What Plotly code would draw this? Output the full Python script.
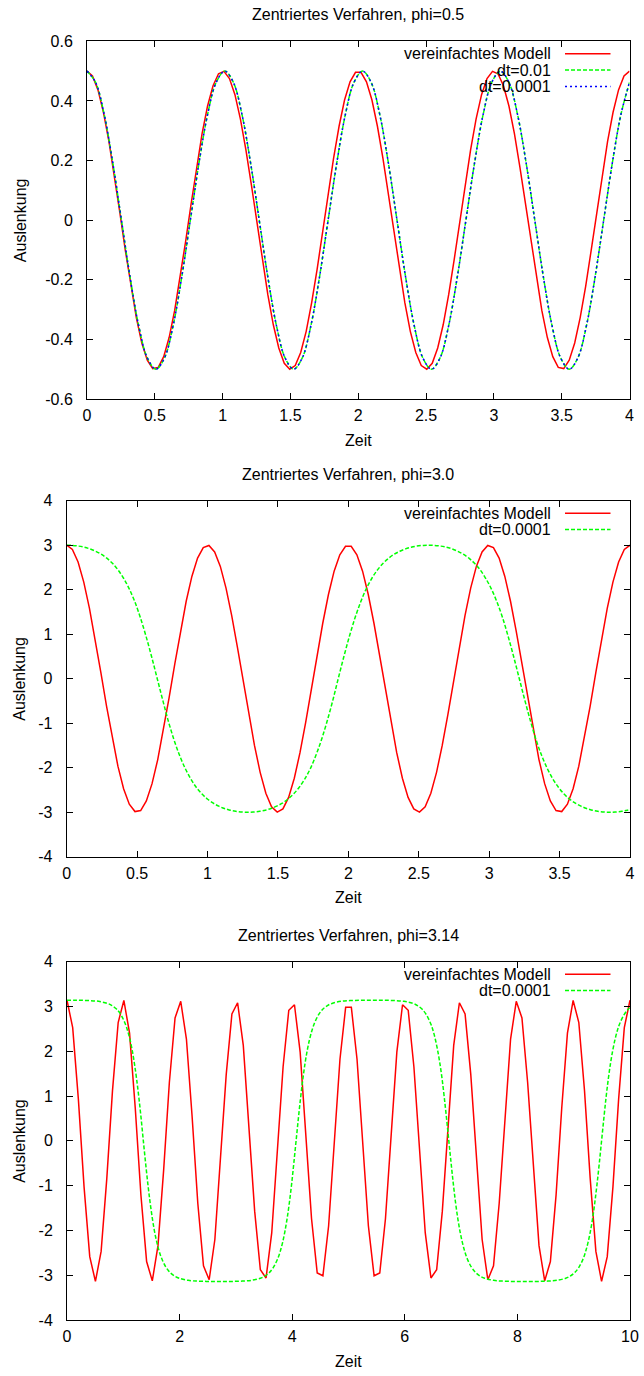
import numpy as np
import plotly.graph_objects as go

W, H = 644, 1376

# ---------------- Plot 1: phi = 0.5 ----------------
t1_model = np.linspace(0, 4, 100)
y1_model = [0.5, 0.484, 0.437, 0.362, 0.264, 0.148, 0.024, -0.102, -0.222, -0.327,
            -0.412, -0.470, -0.498, -0.494, -0.458, -0.393, -0.303, -0.193, -0.071, 0.055,
            0.178, 0.290, 0.383, 0.451, 0.491, 0.499, 0.475, 0.421, 0.339, 0.236,
            0.118, -0.008, -0.133, -0.250, -0.351, -0.429, -0.480, -0.500, -0.488, -0.444,
            -0.373, -0.277, -0.164, -0.040, 0.087, 0.208, 0.315, 0.403, 0.464, 0.496,
            0.496, 0.464, 0.403, 0.315, 0.208, 0.087, -0.040, -0.164, -0.277, -0.373,
            -0.444, -0.488, -0.500, -0.480, -0.429, -0.351, -0.250, -0.133, -0.008, 0.118,
            0.236, 0.339, 0.421, 0.475, 0.499, 0.491, 0.451, 0.383, 0.290, 0.178,
            0.055, -0.071, -0.193, -0.303, -0.393, -0.458, -0.494, -0.498, -0.470, -0.412,
            -0.327, -0.222, -0.102, 0.024, 0.148, 0.264, 0.362, 0.437, 0.484, 0.5]

t1_num = [0.0000, 0.0635, 0.1270, 0.1905, 0.2540, 0.3175, 0.3810, 0.4445,
          0.5080, 0.5714, 0.6349, 0.6984, 0.7619, 0.8254, 0.8889, 0.9524,
          1.0159, 1.0794, 1.1429, 1.2064, 1.2699, 1.3334, 1.3969, 1.4604,
          1.5239, 1.5874, 1.6508, 1.7143, 1.7778, 1.8413, 1.9048, 1.9683,
          2.0318, 2.0953, 2.1588, 2.2223, 2.2858, 2.3493, 2.4128, 2.4763,
          2.5398, 2.6033, 2.6667, 2.7302, 2.7937, 2.8572, 2.9207, 2.9842,
          3.0477, 3.1112, 3.1747, 3.2382, 3.3017, 3.3652, 3.4287, 3.4922,
          3.5557, 3.6192, 3.6826, 3.7461, 3.8096, 3.8731, 3.9366, 4.0001]
y1_dt001 = [0.5, 0.462, 0.354, 0.191, 0.0, -0.191, -0.354, -0.462,
            -0.5, -0.462, -0.354, -0.191, 0.0, 0.191, 0.354, 0.462,
            0.5, 0.462, 0.354, 0.191, 0.0, -0.191, -0.354, -0.462,
            -0.5, -0.462, -0.354, -0.191, 0.0, 0.191, 0.354, 0.462,
            0.5, 0.462, 0.354, 0.191, 0.0, -0.191, -0.354, -0.462,
            -0.5, -0.462, -0.354, -0.191, 0.0, 0.191, 0.354, 0.462,
            0.5, 0.462, 0.354, 0.191, 0.0, -0.191, -0.354, -0.462,
            -0.5, -0.462, -0.354, -0.191, 0.0, 0.191, 0.354, 0.462]
y1_dt00001 = [0.5, 0.462, 0.354, 0.191, 0.0, -0.191, -0.354, -0.462,
              -0.5, -0.462, -0.354, -0.191, 0.0, 0.191, 0.354, 0.462,
              0.5, 0.462, 0.354, 0.191, 0.0, -0.191, -0.354, -0.462,
              -0.5, -0.462, -0.354, -0.191, 0.0, 0.191, 0.354, 0.462,
              0.5, 0.462, 0.354, 0.191, 0.0, -0.191, -0.354, -0.462,
              -0.5, -0.462, -0.354, -0.191, 0.0, 0.191, 0.354, 0.462,
              0.5, 0.462, 0.354, 0.191, 0.0, -0.191, -0.354, -0.462,
              -0.5, -0.462, -0.354, -0.191, 0.0, 0.191, 0.354, 0.462]

# ---------------- Plot 2: phi = 3.0 ----------------
t2_model = np.linspace(0, 4, 100)
y2_model = [3.0, 2.904, 2.622, 2.171, 1.582, 0.891, 0.143, -0.614, -1.332, -1.965,
            -2.471, -2.819, -2.986, -2.962, -2.748, -2.358, -1.817, -1.159, -0.427, 0.332,
            1.071, 1.740, 2.298, 2.709, 2.946, 2.994, 2.850, 2.524, 2.036, 1.417,
            0.707, -0.048, -0.799, -1.5, -2.104, -2.574, -2.879, -2.999, -2.926, -2.667,
            -2.236, -1.662, -0.981, -0.238, 0.521, 1.246, 1.892, 2.416, 2.785, 2.976,
            2.976, 2.785, 2.416, 1.892, 1.246, 0.521, -0.238, -0.981, -1.662, -2.236,
            -2.667, -2.926, -2.999, -2.879, -2.574, -2.104, -1.5, -0.799, -0.048, 0.707,
            1.417, 2.036, 2.524, 2.850, 2.994, 2.946, 2.709, 2.298, 1.740, 1.071,
            0.332, -0.427, -1.159, -1.817, -2.358, -2.748, -2.962, -2.986, -2.819, -2.471,
            -1.965, -1.332, -0.614, 0.143, 0.891, 1.582, 2.171, 2.622, 2.904, 3.0]

t2_num = [0.000, 0.038, 0.086, 0.126, 0.165, 0.205, 0.245, 0.285, 0.325, 0.364, 0.404, 0.444, 0.484, 0.523, 0.563, 0.603, 0.643,
          0.683, 0.722, 0.762, 0.802, 0.842, 0.882, 0.921, 0.961, 1.001, 1.041, 1.080, 1.120, 1.160, 1.200, 1.248, 1.286,
          1.324, 1.371, 1.411, 1.451, 1.491, 1.531, 1.570, 1.610, 1.650, 1.690, 1.730, 1.769, 1.809, 1.849, 1.889, 1.928,
          1.968, 2.008, 2.048, 2.088, 2.127, 2.167, 2.207, 2.247, 2.287, 2.326, 2.366, 2.406, 2.446, 2.485, 2.533, 2.571,
          2.609, 2.657, 2.697, 2.737, 2.776, 2.816, 2.856, 2.896, 2.936, 2.975, 3.015, 3.055, 3.095, 3.134, 3.174, 3.214,
          3.254, 3.294, 3.333, 3.373, 3.413, 3.453, 3.493, 3.532, 3.572, 3.612, 3.652, 3.692, 3.731, 3.771, 3.819, 3.857,
          3.895, 3.943, 3.982, 4.022]
y2_dt00001 = [3.000, 2.996, 2.979, 2.954, 2.917, 2.865, 2.798, 2.708, 2.593, 2.445, 2.257, 2.020, 1.727, 1.373, 0.958, 0.494, 0.000,
              -0.494, -0.958, -1.373, -1.727, -2.020, -2.257, -2.445, -2.593, -2.708, -2.798, -2.865, -2.917, -2.954, -2.979, -2.996, -3.000,
              -2.996, -2.979, -2.954, -2.917, -2.865, -2.798, -2.708, -2.593, -2.445, -2.257, -2.020, -1.727, -1.373, -0.958, -0.494, 0.000,
              0.494, 0.958, 1.373, 1.727, 2.020, 2.257, 2.445, 2.593, 2.708, 2.798, 2.865, 2.917, 2.954, 2.979, 2.996, 3.000,
              2.996, 2.979, 2.954, 2.917, 2.865, 2.798, 2.708, 2.593, 2.445, 2.257, 2.020, 1.727, 1.373, 0.958, 0.494, 0.000,
              -0.494, -0.958, -1.373, -1.727, -2.020, -2.257, -2.445, -2.593, -2.708, -2.798, -2.865, -2.917, -2.954, -2.979, -2.996, -3.000,
              -2.996, -2.979, -2.954, -2.917]

# ---------------- Plot 3: phi = 3.14 ----------------
t3_model = np.linspace(0, 10, 100)
y3_model = [3.14, 2.529, 0.932, -1.027, -2.586, -3.138, -2.468, -0.837, 1.121, 2.642,
            3.134, 2.405, 0.740, -1.213, -2.694, -3.126, -2.340, -0.643, 1.304, 2.744,
            3.115, 2.273, 0.545, -1.394, -2.791, -3.101, -2.203, -0.447, 1.483, 2.835,
            3.083, 2.130, 0.348, -1.570, -2.877, -3.063, -2.056, -0.249, 1.655, 2.915,
            3.039, 1.980, 0.149, -1.739, -2.951, -3.013, -1.902, -0.050, 1.821, 2.983,
            2.983, 1.821, -0.050, -1.902, -3.013, -2.951, -1.739, 0.149, 1.980, 3.039,
            2.915, 1.655, -0.249, -2.056, -3.063, -2.877, -1.570, 0.348, 2.130, 3.083,
            2.835, 1.483, -0.447, -2.203, -3.101, -2.791, -1.394, 0.545, 2.273, 3.115,
            2.744, 1.304, -0.643, -2.340, -3.126, -2.694, -1.213, 0.740, 2.405, 3.134,
            2.642, 1.121, -0.837, -2.468, -3.138, -2.586, -1.027, 0.932, 2.529, 3.14]

t3_num = [0.000, 0.120, 0.242, 0.402, 0.561, 0.720, 0.799, 0.879, 0.959, 1.038, 1.078, 1.118, 1.158, 1.197, 1.237, 1.277, 1.317, 1.356,
          1.396, 1.436, 1.476, 1.516, 1.555, 1.595, 1.635, 1.675, 1.754, 1.834, 1.913, 1.993, 2.152, 2.311, 2.471, 2.593, 2.713,
          2.833, 2.955, 3.114, 3.273, 3.433, 3.512, 3.592, 3.671, 3.751, 3.791, 3.831, 3.870, 3.910, 3.950, 3.990, 4.029, 4.069,
          4.109, 4.149, 4.189, 4.228, 4.268, 4.308, 4.348, 4.388, 4.467, 4.547, 4.626, 4.706, 4.865, 5.024, 5.183, 5.306, 5.426,
          5.546, 5.668, 5.827, 5.986, 6.145, 6.225, 6.305, 6.384, 6.464, 6.504, 6.543, 6.583, 6.623, 6.663, 6.702, 6.742, 6.782,
          6.822, 6.862, 6.901, 6.941, 6.981, 7.021, 7.061, 7.100, 7.180, 7.260, 7.339, 7.419, 7.578, 7.737, 7.896, 8.018, 8.138,
          8.258, 8.381, 8.540, 8.699, 8.858, 8.938, 9.017, 9.097, 9.177, 9.216, 9.256, 9.296, 9.336, 9.375, 9.415, 9.455, 9.495,
          9.535, 9.574, 9.614, 9.654, 9.694, 9.734, 9.773, 9.813, 9.893, 9.972, 10.052]
y3_dt00001 = [3.14, 3.14, 3.138, 3.132, 3.115, 3.068, 3.021, 2.943, 2.814, 2.604, 2.453, 2.263, 2.025, 1.732, 1.376, 0.961, 0.495, 0.0,
              -0.495, -0.961, -1.376, -1.732, -2.025, -2.263, -2.453, -2.604, -2.814, -2.943, -3.021, -3.068, -3.115, -3.132, -3.138, -3.14, -3.14,
              -3.14, -3.138, -3.132, -3.115, -3.068, -3.021, -2.943, -2.814, -2.604, -2.453, -2.263, -2.025, -1.732, -1.376, -0.961, -0.495, 0.0,
              0.495, 0.961, 1.376, 1.732, 2.025, 2.263, 2.453, 2.604, 2.814, 2.943, 3.021, 3.068, 3.115, 3.132, 3.138, 3.14, 3.14,
              3.14, 3.138, 3.132, 3.115, 3.068, 3.021, 2.943, 2.814, 2.604, 2.453, 2.263, 2.025, 1.732, 1.376, 0.961, 0.495, 0.0,
              -0.495, -0.961, -1.376, -1.732, -2.025, -2.263, -2.453, -2.604, -2.814, -2.943, -3.021, -3.068, -3.115, -3.132, -3.138, -3.14, -3.14,
              -3.14, -3.138, -3.132, -3.115, -3.068, -3.021, -2.943, -2.814, -2.604, -2.453, -2.263, -2.025, -1.732, -1.376, -0.961, -0.495, 0.0,
              0.495, 0.961, 1.376, 1.732, 2.025, 2.263, 2.453, 2.604, 2.814, 2.943, 3.021]

# ---------------- Tick labels / texts ----------------
titles = ["Zentriertes Verfahren, phi=0.5", "Zentriertes Verfahren, phi=3.0",
          "Zentriertes Verfahren, phi=3.14"]
xlabel = "Zeit"
ylabel = "Auslenkung"
x_ticks_4 = [0, 0.5, 1, 1.5, 2, 2.5, 3, 3.5, 4]
x_ticktext_4 = ["0", "0.5", "1", "1.5", "2", "2.5", "3", "3.5", "4"]
x_ticks_10 = [0, 2, 4, 6, 8, 10]
x_ticktext_10 = ["0", "2", "4", "6", "8", "10"]
y_ticks_05 = [-0.6, -0.4, -0.2, 0, 0.2, 0.4, 0.6]
y_ticktext_05 = ["-0.6", "-0.4", "-0.2", "0", "0.2", "0.4", "0.6"]
y_ticks_4 = [-4, -3, -2, -1, 0, 1, 2, 3, 4]
y_ticktext_4 = ["-4", "-3", "-2", "-1", "0", "1", "2", "3", "4"]

RED, GREEN, BLUE = "#ff0000", "#00ff00", "#0000ff"
FONT = "Liberation Sans, Arial, Helvetica, sans-serif"
FS = 16
LW = 1.5
GREEN_DASH = "4px,2px"
BLUE_DASH = "2px,3px"


def px(x):
    return x / W


def py(y):
    return 1 - y / H


# panel pixel boxes: (left, right, top, bottom)
boxes = [(87.0, 629.5, 41.3, 399.0),
         (66.7, 630.0, 500.7, 856.7),
         (67.0, 630.0, 961.7, 1320.0)]

fig = go.Figure()

# Plot 1
fig.add_trace(go.Scatter(x=t1_model, y=y1_model, mode="lines", line=dict(color=RED, width=LW),
                         xaxis="x", yaxis="y", name="vereinfachtes Modell"))
fig.add_trace(go.Scatter(x=t1_num, y=y1_dt001, mode="lines", line=dict(color=GREEN, width=LW, dash=GREEN_DASH, shape="spline"),
                         xaxis="x", yaxis="y", name="dt=0.01"))
fig.add_trace(go.Scatter(x=t1_num, y=y1_dt00001, mode="lines", line=dict(color=BLUE, width=LW, dash=BLUE_DASH, shape="spline"),
                         xaxis="x", yaxis="y", name="dt=0.0001"))
# Plot 2
fig.add_trace(go.Scatter(x=t2_model, y=y2_model, mode="lines", line=dict(color=RED, width=LW),
                         xaxis="x2", yaxis="y2", name="vereinfachtes Modell"))
fig.add_trace(go.Scatter(x=t2_num, y=y2_dt00001, mode="lines", line=dict(color=GREEN, width=LW, dash=GREEN_DASH, shape="spline"),
                         xaxis="x2", yaxis="y2", name="dt=0.0001"))
# Plot 3
fig.add_trace(go.Scatter(x=t3_model, y=y3_model, mode="lines", line=dict(color=RED, width=LW),
                         xaxis="x3", yaxis="y3", name="vereinfachtes Modell"))
fig.add_trace(go.Scatter(x=t3_num, y=y3_dt00001, mode="lines", line=dict(color=GREEN, width=LW, dash=GREEN_DASH, shape="spline"),
                         xaxis="x3", yaxis="y3", name="dt=0.0001"))


def axis(domain, rng, tv, tt, anchor, standoff):
    return dict(domain=domain, range=rng, tickvals=tv, ticktext=tt, ticks="inside", ticklen=6,
                tickwidth=1, tickcolor="black", showline=True, linecolor="black", linewidth=1,
                mirror="ticks", showgrid=False, zeroline=False, anchor=anchor, automargin=False,
                ticklabelstandoff=standoff,
                tickfont=dict(family=FONT, size=FS, color="black"), fixedrange=True)


layout = dict(width=W, height=H, margin=dict(l=0, r=0, t=0, b=0), showlegend=False,
              paper_bgcolor="white", plot_bgcolor="white", font=dict(family=FONT, size=FS, color="black"))

xr = [[0, 4], [0, 4], [0, 10]]
yr = [[-0.6, 0.6], [-4, 4], [-4, 4]]
xt = [(x_ticks_4, x_ticktext_4), (x_ticks_4, x_ticktext_4), (x_ticks_10, x_ticktext_10)]
yt = [(y_ticks_05, y_ticktext_05), (y_ticks_4, y_ticktext_4), (y_ticks_4, y_ticktext_4)]
for i, (l, r, t, b) in enumerate(boxes):
    sfx = "" if i == 0 else str(i + 1)
    layout["xaxis" + sfx] = axis([px(l), px(r)], xr[i], xt[i][0], xt[i][1], "y" + sfx, 2)
    layout["yaxis" + sfx] = axis([py(b), py(t)], yr[i], yt[i][0], yt[i][1], "x" + sfx, 10)

annotations = []
shapes = []
legend_entries = [
    [("vereinfachtes Modell", RED, "solid"), ("dt=0.01", GREEN, GREEN_DASH), ("dt=0.0001", BLUE, BLUE_DASH)],
    [("vereinfachtes Modell", RED, "solid"), ("dt=0.0001", GREEN, GREEN_DASH)],
    [("vereinfachtes Modell", RED, "solid"), ("dt=0.0001", GREEN, GREEN_DASH)],
]
for i, (l, r, t, b) in enumerate(boxes):
    cx = (l + r) / 2
    annotations.append(dict(text=titles[i], x=px(cx), y=py(t - 26.3), xref="paper", yref="paper",
                            xanchor="center", yanchor="middle", showarrow=False,
                            font=dict(family=FONT, size=FS, color="black")))
    annotations.append(dict(text=xlabel, x=px(cx), y=py(b + 41), xref="paper", yref="paper",
                            xanchor="center", yanchor="middle", showarrow=False,
                            font=dict(family=FONT, size=FS, color="black")))
    annotations.append(dict(text=ylabel, x=px(20), y=py((t + b) / 2), xref="paper", yref="paper",
                            xanchor="center", yanchor="middle", showarrow=False, textangle=-90,
                            font=dict(family=FONT, size=FS, color="black")))
    for j, (lab, col, dash) in enumerate(legend_entries[i]):
        ry = t + 12.5 + 16.3 * j
        annotations.append(dict(text=lab, x=px(553), y=py(ry), xref="paper", yref="paper",
                                xanchor="right", yanchor="middle", showarrow=False,
                                font=dict(family=FONT, size=FS, color="black")))
        shapes.append(dict(type="line", xref="paper", yref="paper", x0=px(565), x1=px(610.5),
                           y0=py(ry), y1=py(ry), line=dict(color=col, width=LW, dash=dash)))

layout["annotations"] = annotations
layout["shapes"] = shapes
fig.update_layout(**layout)

fig.write_html("out.html")
